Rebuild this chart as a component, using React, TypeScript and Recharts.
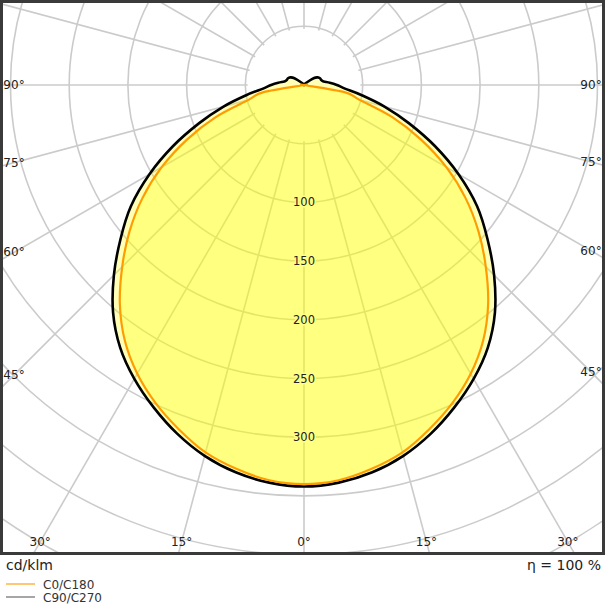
import React from 'react';
import { RadarChart, Radar, PolarGrid, PolarAngleAxis, PolarRadiusAxis } from 'recharts';

// ---- data (one half-plane each, gamma measured from nadir) ----
const GAMMA = [0, 5, 10, 15, 20, 25, 30, 35, 40, 45, 50, 55, 60, 65, 70, 75, 80, 85, 90,
  95, 100, 105, 110, 115, 120, 125, 130, 135, 140, 145, 150, 155, 160, 165, 170, 175, 180];
const C0_C180 = [340, 338, 332, 324, 312, 299, 284, 266, 244, 219, 194, 168, 140, 110, 80, 49, 35, 0, 0,
  0, 0, 0, 0, 0, 0, 0, 0, 0, 0, 0, 0, 0, 0, 0, 0, 0, 0];
const C90_C270 = [342, 340, 335, 327, 316, 303, 289, 273, 253, 229, 204, 180, 152, 123, 95, 71, 50, 35, 28,
  22, 17, 15.5, 15, 14.5, 13, 10, 5, 2, 0, 0, 0, 0, 0, 0, 0, 0, 0];
const ANGLE_TICKS = [0, 15, 30, 45, 60, 75, 90, 105, 120, 135, 150, 165, 180, 195, 210, 225, 240, 255, 270, 285, 300, 315, 330, 345];
const RADIUS_TICKS = [50, 100, 150, 200, 250, 300, 350, 400, 450, 500];
const RADIUS_LABELS = [100, 150, 200, 250, 300];
const SERIES_NAMES = ['C0/C180', 'C90/C270'];
const UNIT_LABEL = 'cd/klm';
const EFFICIENCY_LABEL = 'η = 100 %';

// ---- layout ----
const RMAX = 500;
const PX_PER_UNIT = 1.174;
const BORDER = 3;
const FRAME_W = 605;
const FRAME_H = 555;
const CHART_W = FRAME_W - 2 * BORDER;
const CHART_H = FRAME_H - 2 * BORDER;
const CX = 301;
const CY = 82;
const HUB = 48;
const LABEL_LEFT = 11;
const LABEL_RIGHT = 588;
const LABEL_BOTTOM = 539;
const FONT = 'DejaVu Sans, Verdana, sans-serif';

// left half-plane (theta 0..180) is C180 / C270, right half-plane mirrors it
const tableLeft = GAMMA.map((g, i) => ({ theta: g, c0: C0_C180[i], c90: C90_C270[i], hub: HUB }));
const tableRight = GAMMA.slice(0, -1).map((g, i) => ({ theta: 360 - g, c0: C0_C180[i], c90: C90_C270[i], hub: HUB })).reverse();
const TABLE = [...tableLeft, ...tableRight];

// closed Catmull-Rom path through the radar points computed by recharts
const SmoothRadarShape = (props: any) => {
  const { points, fill, fillOpacity, stroke, strokeWidth } = props;
  if (!points || points.length < 3) return null;
  let pts = points.map((p: any) => ({ x: p.x, y: p.y }));
  const f = pts[0];
  const l = pts[pts.length - 1];
  if (Math.abs(f.x - l.x) < 1e-6 && Math.abs(f.y - l.y) < 1e-6) pts = pts.slice(0, -1);
  const n = pts.length;
  let d = `M${pts[0].x},${pts[0].y}`;
  for (let i = 0; i < n; i++) {
    const p0 = pts[(i - 1 + n) % n];
    const p1 = pts[i];
    const p2 = pts[(i + 1) % n];
    const p3 = pts[(i + 2) % n];
    const c1x = p1.x + (p2.x - p0.x) / 6;
    const c1y = p1.y + (p2.y - p0.y) / 6;
    const c2x = p2.x - (p3.x - p1.x) / 6;
    const c2y = p2.y - (p3.y - p1.y) / 6;
    d += ` C${c1x},${c1y} ${c2x},${c2y} ${p2.x},${p2.y}`;
  }
  d += ' Z';
  return (
    <path
      d={d}
      fill={fill}
      fillOpacity={fillOpacity}
      stroke={stroke}
      strokeWidth={strokeWidth}
      strokeLinejoin="round"
    />
  );
};

const AngleTick = (props: any) => {
  const { payload } = props;
  const v = payload.value;
  const gamma = v <= 180 ? v : 360 - v;
  if (gamma > 90) return null;
  const a = (payload.coordinate * Math.PI) / 180;
  const dx = Math.cos(a);
  const dy = -Math.sin(a);
  let t = Infinity;
  if (dx < -1e-6) t = Math.min(t, (LABEL_LEFT - CX) / dx);
  if (dx > 1e-6) t = Math.min(t, (LABEL_RIGHT - CX) / dx);
  if (dy > 1e-6) t = Math.min(t, (LABEL_BOTTOM - CY) / dy);
  const x = CX + t * dx;
  const y = CY + t * dy;
  return (
    <text x={x} y={y} textAnchor="middle" dominantBaseline="central" fontSize={12} fontFamily={FONT} fill="#222">
      {gamma}°
    </text>
  );
};

const RadiusTick = (props: any) => {
  const { x, y, payload } = props;
  if (!RADIUS_LABELS.includes(payload.value)) return null;
  return (
    <text
      x={x}
      y={y}
      textAnchor="middle"
      dominantBaseline="central"
      fontSize={11.5}
      fontFamily={FONT}
      fill="#222"
      stroke="#ffff84"
      strokeWidth={3}
      strokeLinejoin="round"
      style={{ paintOrder: 'stroke' }}
    >
      {payload.value}
    </text>
  );
};

export default function App() {
  return (
    <div style={{ position: 'absolute', left: 0, top: 0, width: 608, height: 608, background: '#fff', fontFamily: FONT }}>
      <div
        style={{
          position: 'absolute',
          left: 0,
          top: 0,
          width: FRAME_W,
          height: FRAME_H,
          boxSizing: 'border-box',
          border: `${BORDER}px solid #3a3a3a`,
          overflow: 'hidden',
          background: '#fff',
        }}
      >
        <RadarChart
          width={CHART_W}
          height={CHART_H}
          cx={CX}
          cy={CY}
          outerRadius={RMAX * PX_PER_UNIT}
          startAngle={-90}
          endAngle={-450}
          data={TABLE}
          margin={{ top: 0, right: 0, bottom: 0, left: 0 }}
        >
          <PolarGrid gridType="circle" stroke="#cbcbcb" strokeWidth={1.6} />
          <PolarAngleAxis
            dataKey="theta"
            type="number"
            domain={[0, 360]}
            ticks={ANGLE_TICKS}
            tick={AngleTick}
            axisLine={false}
            tickLine={false}
          />
          <PolarRadiusAxis
            angle={-90}
            domain={[0, RMAX]}
            ticks={RADIUS_TICKS}
            tick={RadiusTick}
            axisLine={false}
            tickLine={false}
            type="number"
          />
          <Radar dataKey="hub" stroke="none" fill="#ffffff" fillOpacity={1} shape={SmoothRadarShape} dot={false} activeDot={false} isAnimationActive={false} legendType="none" />
          <Radar dataKey="c90" name={SERIES_NAMES[1]} stroke="#000000" strokeWidth={2.6} fill="#ffff00" fillOpacity={0.29} shape={SmoothRadarShape} dot={false} activeDot={false} isAnimationActive={false} />
          <Radar dataKey="c0" name={SERIES_NAMES[0]} stroke="#ff9d00" strokeWidth={2.2} fill="#ffff00" fillOpacity={0.29} shape={SmoothRadarShape} dot={false} activeDot={false} isAnimationActive={false} />
        </RadarChart>
      </div>
      <div style={{ position: 'absolute', left: 6, top: 556, fontSize: 14, lineHeight: '18px', color: '#222' }}>{UNIT_LABEL}</div>
      <div style={{ position: 'absolute', right: 7, top: 556, fontSize: 14, lineHeight: '18px', color: '#222' }}>{EFFICIENCY_LABEL}</div>
      <svg style={{ position: 'absolute', left: 0, top: 576 }} width={140} height={32}>
        <line x1={6} y1={8} x2={35} y2={8} stroke="#ffb347" strokeWidth={1.5} />
        <text x={43} y={9} dominantBaseline="central" fontSize={12} fontFamily={FONT} fill="#333">{SERIES_NAMES[0]}</text>
        <line x1={6} y1={21} x2={35} y2={21} stroke="#888" strokeWidth={1.5} />
        <text x={43} y={22} dominantBaseline="central" fontSize={12} fontFamily={FONT} fill="#333">{SERIES_NAMES[1]}</text>
      </svg>
    </div>
  );
}
